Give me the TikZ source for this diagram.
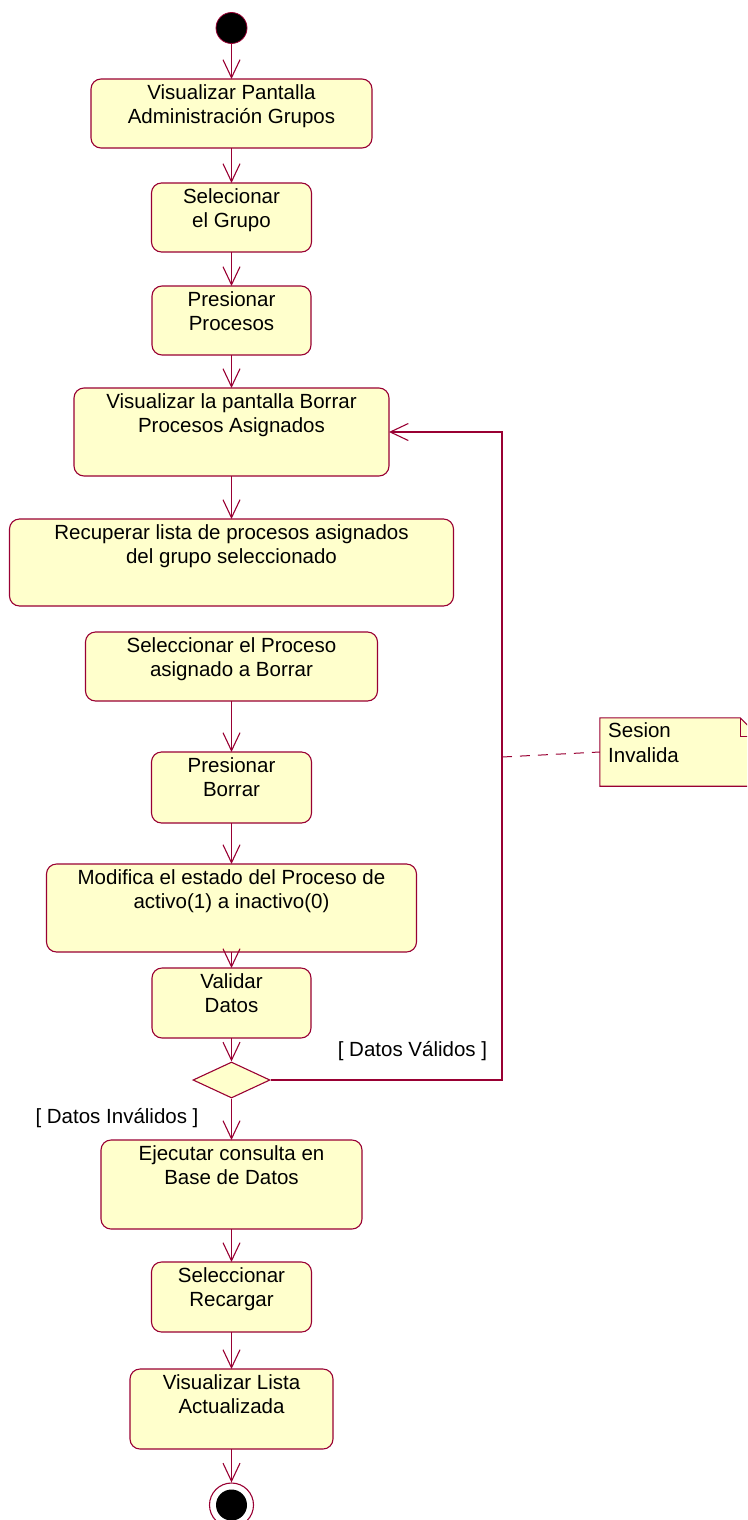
\documentclass[tikz,border=0pt]{standalone}
\usepackage{fontspec}
\setmainfont{Liberation Sans}
\usetikzlibrary{arrows.meta,shapes.geometric}
\definecolor{umlline}{RGB}{153,0,51}
\definecolor{umlfill}{RGB}{255,255,204}
\begin{document}
\begin{tikzpicture}[x=1pt,y=-1pt,
  act/.style={draw=umlline, fill=umlfill, line width=1.1pt, rounded corners=10pt, inner sep=0pt, outer sep=0pt},
  txt/.style={anchor=north, align=center, inner sep=0pt, font=\fontsize{20.5}{24.5}\selectfont},
  lbl/.style={anchor=base, inner sep=0pt, font=\fontsize{20.5}{24.5}\selectfont},
  flow/.style={draw=umlline, line width=1.1pt, -{Straight Barb[length=18pt,width=17pt]}},
  link/.style={draw=umlline, line width=1.1pt},
  notebox/.style={draw=umlline, fill=umlfill, line width=1.1pt},
  anchorline/.style={draw=umlline, line width=1pt, dash pattern=on 10pt off 8pt}
]
\useasboundingbox (0,0) rectangle (747,1520);
\clip (0,0) rectangle (747,1520);

% start
\node[circle, fill=black, draw=umlline, line width=0.8pt, minimum size=31pt, inner sep=0pt] (start) at (231.5,28) {};

% activities
\node[act, minimum width=281pt, minimum height=69pt] (b1) at (231.5,113.5) {};
\node[txt] (t1) at ([yshift=-5pt]b1.north) {Visualizar Pantalla\\Administración Grupos};

\node[act, minimum width=160pt, minimum height=69pt] (b2) at (231.5,217.5) {};
\node[txt] (t2) at ([yshift=-5pt]b2.north) {Selecionar\\ el Grupo};

\node[act, minimum width=159pt, minimum height=69pt] (b3) at (231.5,320.5) {};
\node[txt] (t3) at ([yshift=-5pt]b3.north) {Presionar\\Procesos};

\node[act, minimum width=315pt, minimum height=88pt] (b4) at (231.5,432) {};
\node[txt] (t4) at ([yshift=-5pt]b4.north) {Visualizar la pantalla Borrar\\Procesos Asignados};

\node[act, minimum width=444pt, minimum height=87pt] (b5) at (231.5,562.5) {};
\node[txt] (t5) at ([yshift=-5pt]b5.north) {Recuperar lista de procesos asignados\\del grupo seleccionado};

\node[act, minimum width=292pt, minimum height=69pt] (b6) at (231.5,666.5) {};
\node[txt] (t6) at ([yshift=-5pt]b6.north) {Seleccionar el Proceso\\asignado a Borrar};

\node[act, minimum width=160pt, minimum height=71pt] (b7) at (231.5,787.5) {};
\node[txt] (t7) at ([yshift=-5pt]b7.north) {Presionar\\Borrar};

\node[act, minimum width=370pt, minimum height=88pt] (b8) at (231.5,908) {};
\node[txt] (t8) at ([yshift=-5pt]b8.north) {Modifica el estado del Proceso de\\activo(1) a inactivo(0)};

\node[act, minimum width=159pt, minimum height=70pt] (b9) at (231.5,1003) {};
\node[txt] (t9) at ([yshift=-5pt]b9.north) {Validar\\Datos};

\node[diamond, draw=umlline, fill=umlfill, line width=1.1pt, minimum width=77pt, minimum height=36pt, inner sep=0pt] (dec) at (231.5,1080) {};

\node[act, minimum width=261pt, minimum height=89pt] (b10) at (231.5,1184.5) {};
\node[txt] (t10) at ([yshift=-5pt]b10.north) {Ejecutar consulta en\\Base de Datos};

\node[act, minimum width=160pt, minimum height=70pt] (b11) at (231.5,1297) {};
\node[txt] (t11) at ([yshift=-5pt]b11.north) {Seleccionar\\Recargar};

\node[act, minimum width=203pt, minimum height=80pt] (b12) at (231.5,1409) {};
\node[txt] (t12) at ([yshift=-5pt]b12.north) {Visualizar Lista\\Actualizada};

% end
\node[circle, draw=umlline, fill=white, line width=1.1pt, minimum size=44pt, inner sep=0pt] (endo) at (231.5,1505) {};
\node[circle, fill=black, minimum size=31pt, inner sep=0pt] (endi) at (231.5,1505) {};

% guard labels
\node[lbl] (gv) at (412.5,1056) {[ Datos Válidos ]};
\node[lbl] (gi) at (117,1123) {[ Datos Inválidos ]};

% note
\node[minimum width=159pt, minimum height=68pt, inner sep=0pt] (note) at (679.5,752) {};
\draw[notebox] (note.north west) -- ([xshift=-19pt]note.north east) -- ([yshift=-19pt]note.north east) -- (note.south east) -- (note.south west) -- cycle;
\draw[link, line width=1pt] ([xshift=-19pt]note.north east) -- ([xshift=-19pt,yshift=-19pt]note.north east) -- ([yshift=-19pt]note.north east);
\node[anchor=north west, align=left, inner sep=0pt, font=\fontsize{20.5}{25.5}\selectfont] (nt) at (608,722) {Sesion\\Invalida};

% connectors
\draw[flow] (start) -- (b1.north);
\draw[flow] (b1.south) -- (b2.north);
\draw[flow] (b2.south) -- (b3.north);
\draw[flow] (b3.south) -- (b4.north);
\draw[flow] (b4.south) -- (b5.north);
\draw[flow] (b6.south) -- (b7.north);
\draw[flow] (b7.south) -- (b8.north);
\draw[flow] (b8.south) -- (b9.north);
\draw[flow] (b9.south) -- (dec.north);
\draw[flow] (dec.south) -- (b10.north);
\draw[flow] (b10.south) -- (b11.north);
\draw[flow] (b11.south) -- (b12.north);
\draw[flow] (b12.south) -- (endo.north);

\coordinate (c1) at (502,1080);
\coordinate (c2) at (502,432);
\draw[flow] (dec.east) -- (c1) -- (c2) -- (b4.east);

\coordinate (d1) at (502,757);
\draw[anchorline] (d1) -- (note.west);
\end{tikzpicture}
\end{document}
